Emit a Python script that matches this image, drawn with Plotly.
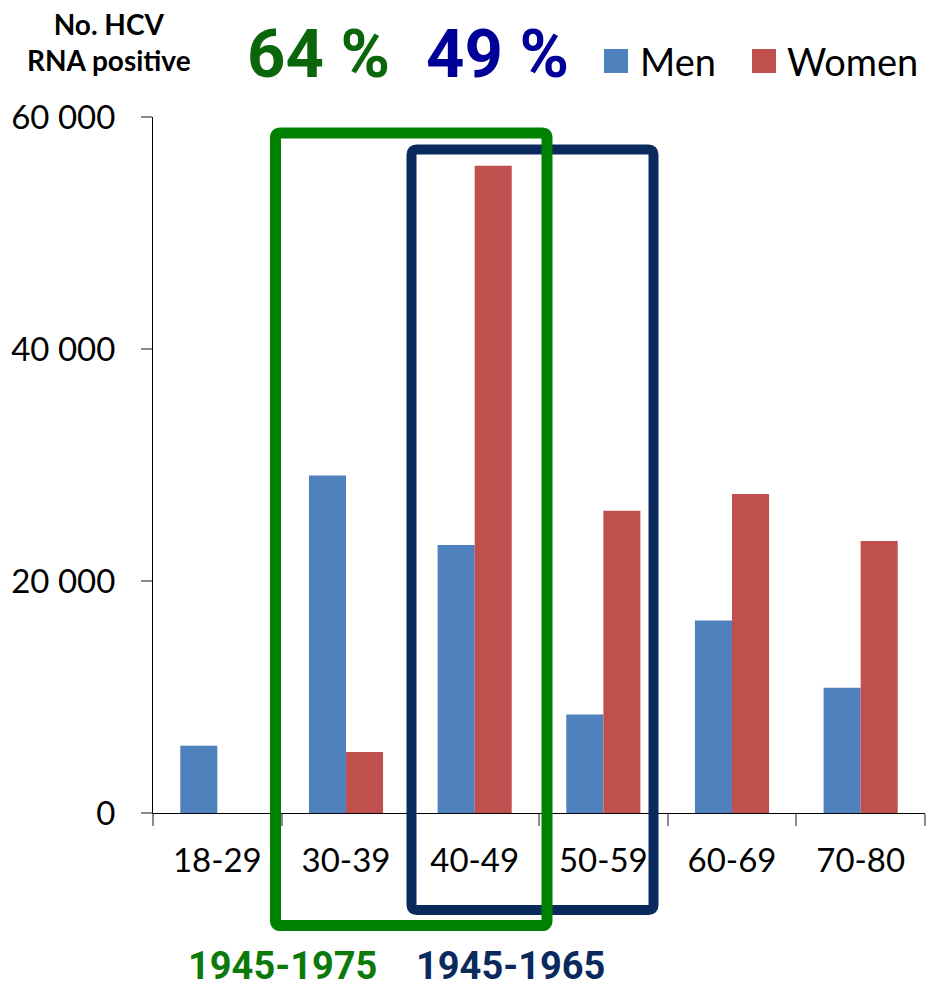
import plotly.graph_objects as go

# ---------------- data ----------------
age_groups = ["18-29", "30-39", "40-49", "50-59", "60-69", "70-80"]
men = [5800, 29100, 23100, 8500, 16600, 10800]
women = [0, 5250, 55800, 26050, 27500, 23450]
y_tickvals = [0, 20000, 40000, 60000]
y_ticktext = ["0", "20 000", "40 000", "60 000"]
share_1945_1975 = "64 %"
share_1945_1965 = "49 %"
cohort_a = "1945-1975"
cohort_b = "1945-1965"

MEN_C = "#4F81BD"
WOMEN_C = "#C0504D"
GREEN_TXT = "#0B660B"
GREEN_BOX = "#008000"
NAVY = "#0A2A5E"
DARKBLUE = "#000099"

OFF = 8  # page body margin
W, H = 935 - OFF, 988 - OFF
L, R, T = 153 - OFF, 10, 117 - OFF
PW, PH = W - L - R, 696
B = H - T - PH


def px(x):
    # reference screenshot pixel -> paper fraction
    return (x - OFF - L) / PW


def py(y):
    return (T + PH - (y - OFF)) / PH


def rounded_rect(x0, y0, x1, y1, r=5):
    rx, ry = r / PW, r / PH
    X0, X1, Y0, Y1 = px(x0), px(x1), py(y1), py(y0)
    return (f"M{X0+rx},{Y1} L{X1-rx},{Y1} Q{X1},{Y1} {X1},{Y1-ry} "
            f"L{X1},{Y0+ry} Q{X1},{Y0} {X1-rx},{Y0} L{X0+rx},{Y0} "
            f"Q{X0},{Y0} {X0},{Y0+ry} L{X0},{Y1-ry} Q{X0},{Y1} {X0+rx},{Y1} Z")


FONT = "Lato, Carlito, 'Open Sans', sans-serif"
NARROW = "'Liberation Sans Narrow', 'Arial Narrow', Roboto, 'Liberation Sans', sans-serif"

fig = go.Figure()
fig.add_trace(go.Bar(name="Men", x=age_groups, y=men, marker=dict(color=MEN_C, line=dict(width=0)),
                     showlegend=False))
fig.add_trace(go.Bar(name="Women", x=age_groups, y=women, marker=dict(color=WOMEN_C, line=dict(width=0)),
                     showlegend=False))

shapes = [
    dict(type="path", xref="paper", yref="paper", path=rounded_rect(411.5, 149.5, 653.5, 910),
         line=dict(color=NAVY, width=10), layer="above"),
    dict(type="path", xref="paper", yref="paper", path=rounded_rect(275.5, 133, 547, 925.5),
         line=dict(color=GREEN_BOX, width=11), layer="above"),
    dict(type="rect", xref="paper", yref="paper", x0=px(604), x1=px(628), y0=py(73), y1=py(49),
         fillcolor=MEN_C, line=dict(width=0)),
    dict(type="rect", xref="paper", yref="paper", x0=px(752), x1=px(776), y0=py(73), y1=py(49),
         fillcolor=WOMEN_C, line=dict(width=0)),
]

annotations = [
    dict(text="<b>No. HCV<br>RNA positive</b>", x=px(109), y=py(42), xref="paper", yref="paper",
         showarrow=False, xanchor="center", yanchor="middle", font=dict(family=FONT, size=28, color="black")),
    dict(text=f"<b>{share_1945_1975}</b>", x=px(318), y=py(54), xref="paper", yref="paper",
         showarrow=False, xanchor="center", yanchor="middle", font=dict(family=NARROW, size=67, color=GREEN_TXT)),
    dict(text=f"<b>{share_1945_1965}</b>", x=px(497), y=py(54), xref="paper", yref="paper",
         showarrow=False, xanchor="center", yanchor="middle", font=dict(family=NARROW, size=67, color=DARKBLUE)),
    dict(text="Men", x=px(638), y=py(61), xref="paper", yref="paper",
         showarrow=False, xanchor="left", yanchor="middle", font=dict(family=FONT, size=38, color="black")),
    dict(text="Women", x=px(785), y=py(61), xref="paper", yref="paper",
         showarrow=False, xanchor="left", yanchor="middle", font=dict(family=FONT, size=38, color="black")),
    dict(text=f"<b>{cohort_a}</b>", x=px(282), y=py(966), xref="paper", yref="paper",
         showarrow=False, xanchor="center", yanchor="middle", font=dict(family=NARROW, size=38, color="#0B7A0B")),
    dict(text=f"<b>{cohort_b}</b>", x=px(510), y=py(966), xref="paper", yref="paper",
         showarrow=False, xanchor="center", yanchor="middle", font=dict(family=NARROW, size=38, color=NAVY)),
]

fig.update_layout(
    width=W, height=H,
    margin=dict(l=L, r=R, t=T, b=B, pad=0, autoexpand=False),
    paper_bgcolor="white", plot_bgcolor="white",
    barmode="group", bargap=0.424, bargroupgap=0,
    shapes=shapes, annotations=annotations,
    font=dict(family=FONT, color="black"),
)
fig.update_xaxes(
    type="category", showline=True, linecolor="black", linewidth=1, automargin=False,
    ticks="outside", tickson="boundaries", ticklen=12, tickcolor="#8C8C8C", tickwidth=1.5,
    tickfont=dict(family=FONT, size=33, color="black"), ticklabelstandoff=18,
    showgrid=False, zeroline=False,
)
fig.update_yaxes(
    range=[0, 60000], tickvals=y_tickvals, ticktext=y_ticktext, automargin=False,
    showline=True, linecolor="black", linewidth=1,
    ticks="outside", ticklen=11, tickcolor="#8C8C8C", tickwidth=1.5,
    tickfont=dict(family=FONT, size=33, color="black"), ticklabelstandoff=19,
    showgrid=False, zeroline=False,
)

fig.write_html("out.html")
